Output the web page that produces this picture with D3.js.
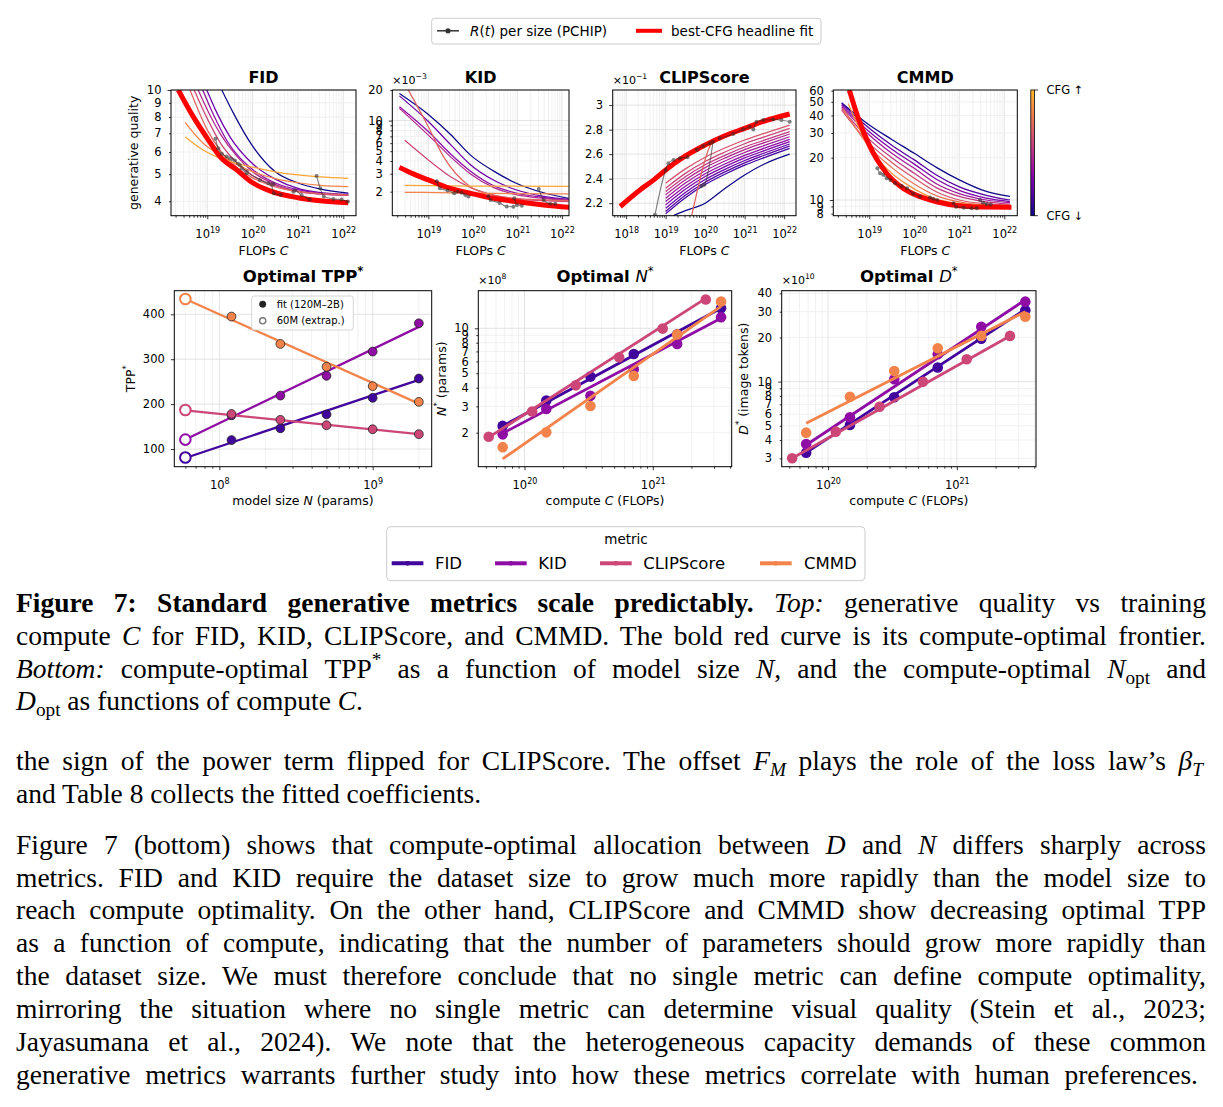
<!DOCTYPE html>
<html><head><meta charset="utf-8">
<script src="https://cdn.jsdelivr.net/npm/d3@7/dist/d3.min.js"></script>
<style>html,body{margin:0;padding:0;background:#fff;} svg{display:block;}</style>
</head><body>
<svg id="fig" width="1223" height="1107" xmlns="http://www.w3.org/2000/svg"></svg>
<script>
// ======================= DATA =======================
// Top row: fitted curves per CFG level. cfg = position on the colour map (low CFG -> high CFG).
// Points are [log10 C (FLOPs), metric value].
const FID_CURVES = [
  {cfg:0.00, pts:[[19.32,10],[19.57,8.3],[20.0,6.3],[20.5,5.1],[21.0,4.65],[21.5,4.42],[22.11,4.28]]},
  {cfg:0.20, pts:[[18.99,10],[19.21,8.3],[19.5,6.8],[20.0,5.45],[20.5,4.8],[21.0,4.45],[21.5,4.3],[22.11,4.24]]},
  {cfg:0.30, pts:[[18.9,10],[19.13,8.2],[19.43,6.6],[20.0,5.2],[20.5,4.65],[21.0,4.4],[21.5,4.27],[22.11,4.22]]},
  {cfg:0.40, pts:[[18.8,10],[19.0,8.5],[19.28,7.0],[19.65,5.8],[20.0,5.1],[20.5,4.6],[21.0,4.35],[21.5,4.25],[22.11,4.2]]},
  {cfg:0.50, pts:[[18.71,10],[19.0,7.9],[19.28,6.5],[19.65,5.5],[20.0,4.95],[20.5,4.55],[21.0,4.33],[21.5,4.24],[22.11,4.2]]},
  {cfg:0.60, pts:[[18.62,10],[19.0,7.2],[19.28,6.1],[19.65,5.3],[20.0,4.85],[20.5,4.5],[21.0,4.33],[21.5,4.26],[22.11,4.22]]},
  {cfg:0.70, pts:[[18.51,7.66],[18.91,6.45],[19.28,5.86],[20.0,5.11],[20.5,4.82],[21.0,4.66],[21.5,4.56],[22.11,4.51]]},
  {cfg:0.80, pts:[[18.51,6.81],[18.91,6.1],[19.28,5.7],[20.0,5.3],[20.5,5.1],[21.0,4.97],[21.5,4.89],[22.11,4.83]]}
];
const FID_BEST = [[18.36,10],[18.69,8.03],[19.0,6.72],[19.28,5.78],[19.65,5.18],[20.0,4.66],[20.38,4.36],[21.0,4.12],[21.49,4.02],[22.11,3.95]];
const FID_RT = [
  [[19.18,6.70],[19.24,6.19],[19.32,5.91],[19.43,5.78],[19.54,5.67]],
  [[19.5,5.70],[19.61,5.60],[19.68,5.45],[19.76,5.25],[19.87,5.04]],
  [[19.72,5.39],[19.87,5.11],[20.16,4.77],[20.35,4.64],[20.46,4.61]],
  [[20.42,4.58],[20.47,4.27],[20.62,4.22]],
  [[20.9,4.33],[20.93,4.37],[21.08,4.21],[21.26,4.06]],
  [[21.41,4.93],[21.49,4.45],[21.57,4.16],[21.78,4.08],[21.96,4.06],[22.1,3.99]]
];

// KID values in units of 1e-3
const KID_CURVES = [
  {cfg:0.00, pts:[[18.35,18.5],[19.0,11.5],[19.5,7.3],[19.94,4.6],[20.46,3.2],[20.95,2.45],[21.59,1.95],[22.15,1.72]]},
  {cfg:0.20, pts:[[18.35,17.5],[19.0,9.8],[19.5,5.8],[19.94,3.7],[20.46,2.6],[20.95,2.1],[21.59,1.8],[22.15,1.68]]},
  {cfg:0.30, pts:[[18.35,13.7],[19.0,7.8],[19.5,4.7],[19.94,3.2],[20.46,2.3],[20.95,1.95],[21.59,1.75],[22.15,1.66]]},
  {cfg:0.40, pts:[[18.35,13.2],[19.0,7.2],[19.5,4.4],[19.94,3.0],[20.46,2.2],[20.95,1.88],[21.59,1.72],[22.15,1.65]]},
  {cfg:0.50, pts:[[18.47,6.4],[19.0,4.1],[19.5,2.8],[19.94,2.2],[20.46,1.85],[20.95,1.7],[21.59,1.63],[22.15,1.6]]},
  {cfg:0.60, pts:[[18.55,20],[19.0,8.7],[19.34,4.42],[19.94,2.24],[20.46,1.85],[20.95,1.72],[21.59,1.66],[22.15,1.63]]},
  {cfg:0.70, pts:[[18.47,1.97],[19.5,1.95],[20.5,1.92],[22.15,1.90]]},
  {cfg:0.80, pts:[[18.47,2.30],[20.0,2.27],[22.15,2.25]]}
];
const KID_BEST = [[18.35,3.47],[18.66,2.99],[19.0,2.61],[19.41,2.21],[19.94,1.93],[20.46,1.72],[20.95,1.60],[21.59,1.48],[22.19,1.40]];
const KID_RT = [
  [[19.19,2.53],[19.26,2.16],[19.43,2.05],[19.58,1.93]],
  [[19.65,2.0],[19.75,1.95],[19.83,1.85],[19.9,1.79]],
  [[20.35,1.80],[20.4,1.66],[20.6,1.55],[20.76,1.43],[20.91,1.42]],
  [[20.93,1.72],[20.99,1.48],[21.1,1.45]],
  [[21.48,2.12],[21.59,1.66],[21.74,1.52],[21.85,1.52]]
];

// CLIPScore values in units of 1e-1
const CLIP_CURVES = [
  {cfg:0.00, pts:[[19.2,2.10],[19.5,2.14],[20.0,2.2],[20.5,2.32],[21.0,2.43],[21.5,2.52],[22.14,2.60]]},
  {cfg:0.10, pts:[[19.0,2.113],[19.5,2.245],[20.0,2.352],[20.5,2.436],[21.0,2.510],[21.5,2.572],[22.14,2.647]]},
  {cfg:0.15, pts:[[19.0,2.132],[19.5,2.264],[20.0,2.371],[20.5,2.455],[21.0,2.529],[21.5,2.591],[22.14,2.666]]},
  {cfg:0.20, pts:[[19.0,2.159],[19.5,2.288],[20.0,2.393],[20.5,2.476],[21.0,2.548],[21.5,2.609],[22.14,2.683]]},
  {cfg:0.25, pts:[[19.0,2.186],[19.5,2.313],[20.0,2.417],[20.5,2.498],[21.0,2.569],[21.5,2.629],[22.14,2.702]]},
  {cfg:0.30, pts:[[19.0,2.213],[19.5,2.338],[20.0,2.440],[20.5,2.520],[21.0,2.590],[21.5,2.649],[22.14,2.721]]},
  {cfg:0.35, pts:[[19.0,2.241],[19.5,2.365],[20.0,2.465],[20.5,2.544],[21.0,2.613],[21.5,2.671],[22.14,2.742]]},
  {cfg:0.40, pts:[[19.0,2.268],[19.5,2.391],[20.0,2.490],[20.5,2.568],[21.0,2.637],[21.5,2.694],[22.14,2.764]]},
  {cfg:0.45, pts:[[19.0,2.295],[19.5,2.416],[20.0,2.513],[20.5,2.590],[21.0,2.658],[21.5,2.714],[22.14,2.783]]},
  {cfg:0.50, pts:[[19.0,2.322],[19.5,2.443],[20.0,2.540],[20.5,2.617],[21.0,2.685],[21.5,2.741],[22.14,2.810]]},
  {cfg:0.55, pts:[[19.0,2.363],[19.5,2.480],[20.0,2.575],[20.5,2.650],[21.0,2.715],[21.5,2.770],[22.14,2.837]]},
  {cfg:0.60, pts:[[19.66,2.10],[19.8,2.30],[19.95,2.50],[20.16,2.688],[20.5,2.76],[21.0,2.80],[21.5,2.86],[22.14,2.91]]}
];
const CLIP_BEST = [[17.85,2.173],[18.35,2.308],[18.7,2.39],[19.0,2.471],[19.5,2.585],[20.0,2.675],[20.5,2.75],[21.0,2.81],[21.5,2.87],[22.14,2.927]];
const CLIP_RT = [
  [[18.73,2.105],[19.0,2.471],[19.07,2.525],[19.2,2.553],[19.36,2.566],[19.55,2.574]],
  [[19.79,2.634],[19.95,2.666],[20.12,2.688]],
  [[19.91,2.34],[19.98,2.35],[20.2,2.70]],
  [[20.37,2.729],[20.71,2.764],[20.96,2.802],[21.13,2.824]],
  [[21.22,2.80],[21.3,2.864],[21.47,2.878],[21.72,2.883],[21.93,2.878],[22.14,2.864]]
];

const CMMD_CURVES = [
  {cfg:0.00, pts:[[18.385,49.3],[19.0,34.2],[19.5,27],[20.0,21.5],[20.5,17],[21.0,13.9],[21.6,11.5],[22.126,10.6]]},
  {cfg:0.15, pts:[[18.385,48.7],[19.0,32.4],[19.5,24.5],[20.0,19.3],[20.5,15.0],[21.0,12.4],[21.6,10.8],[22.126,10.0]]},
  {cfg:0.25, pts:[[18.385,47.4],[19.0,30.6],[19.5,23.0],[20.0,18.0],[20.5,14.0],[21.0,11.7],[21.6,10.3],[22.126,9.73]]},
  {cfg:0.35, pts:[[18.385,46.2],[19.0,29.0],[19.5,21.5],[20.0,16.8],[20.5,13.0],[21.0,11.1],[21.6,10.0],[22.126,9.57]]},
  {cfg:0.45, pts:[[18.385,44.9],[19.0,27.0],[19.5,20.0],[20.0,15.5],[20.5,12.2],[21.0,10.6],[21.6,9.7],[22.126,9.36]]},
  {cfg:0.55, pts:[[18.385,43.7],[19.0,25.3],[19.5,18.5],[20.0,14.3],[20.5,11.4],[21.0,10.0],[21.6,9.4],[22.126,9.21]]},
  {cfg:0.65, pts:[[18.42,44.5],[19.0,24.0],[19.5,17.0],[20.0,13.0],[20.5,10.7],[21.0,9.7],[21.6,9.2],[22.126,9.06]]},
  {cfg:0.75, pts:[[18.53,48.7],[19.0,23.5],[19.5,15.5],[20.0,12.0],[20.5,10.1],[21.0,9.45],[21.6,9.1],[22.126,8.96]]},
  {cfg:0.85, pts:[[18.54,62],[18.756,40],[19.0,25.5],[19.385,16.0],[20.0,11.1],[20.5,9.8],[21.0,9.2],[22.126,8.9]]}
];
const CMMD_BEST = [[18.556,60.7],[18.756,38.1],[19.0,24.6],[19.385,15.5],[19.756,12.1],[20.0,10.97],[20.496,9.72],[21.0,9.1],[21.6,8.9],[22.16,8.87]];
const CMMD_RT = [
  [[19.18,16.8],[19.24,15.5],[19.31,15.1],[19.385,14.3],[19.47,13.9]],
  [[19.57,13.2],[19.72,12.6],[19.84,12.1],[19.98,11.1],[20.13,10.6]],
  [[20.35,10.4],[20.42,10.2],[20.51,10.0]],
  [[20.87,9.47],[20.93,8.96],[21.1,8.8],[21.27,8.72],[21.39,8.72]],
  [[21.46,10.0],[21.53,9.57],[21.61,9.36],[21.7,9.3]]
];

// Tick labels
const FID_YTICKS = [4,5,6,7,8,9,10];
const KID_YTICKS = [2,3,4,5,6,7,8,9,10,20];
const CLIP_YTICKS = [2.2,2.4,2.6,2.8,3.0];
const CMMD_YTICKS = [8,9,10,20,30,40,50,60];
const TPP_YTICKS = [100,200,300,400];
const NOPT_YTICKS = [2,3,4,5,6,7,8,9,10];
const DOPT_YTICKS = [3,4,5,6,7,8,9,10,20,30,40];

// Bottom row
const METRICS = ['FID','KID','CLIPScore','CMMD'];
const TPP_N = [6e7, 1.2e8, 2.5e8, 5e8, 1e9, 2e9];           // first size = 60M (extrapolated)
const TPP_FID  = [81, 120, 146, 177, 214, 257];
const TPP_KID  = [121, 175, 219, 263, 317, 380];
const TPP_CLIP = [187, 178, 165, 153, 144, 133];
const TPP_CMMD = [434, 395, 334, 283, 240, 205];
const TPP_FIT = {FID:[80,254], KID:[121,372], CLIPScore:[186,133], CMMD:[434,201]}; // fit at 60M and 2B

const OPT_C      = [6.76e19, 1.479e20, 3.266e20, 7.11e20, 1.549e21, 3.404e21];
const OPT_C_CLIP = [5.26e19, 1.148e20, 2.512e20, 5.46e20, 1.194e21, 2.588e21];
// N* in units of 1e8 params
const NOPT_FID  = [2.22, 3.28, 4.75, 6.73, 9.12, 13.6];
const NOPT_KID  = [1.95, 2.88, 3.53, 5.32, 7.85, 11.85];
const NOPT_CLIP = [1.88, 2.77, 4.15, 6.40, 9.95, 15.6];
const NOPT_CMMD = [1.60, 2.01, 3.02, 4.80, 9.10, 15.1];
const NOPT_FIT = {FID:[2.22,13.6], KID:[1.98,11.67], CLIPScore:[1.86,15.86], CMMD:[1.335,14.0]};
// D* in units of 1e10 image tokens
const DOPT_FID  = [3.28, 5.06, 7.82, 12.5, 19.6, 30.7];
const DOPT_KID  = [3.76, 5.72, 10.4, 15.4, 23.7, 35.1];
const DOPT_CLIP = [3.0, 4.56, 6.74, 9.99, 14.2, 20.5];
const DOPT_CMMD = [4.49, 7.89, 11.8, 16.9, 20.5, 27.7];
const DOPT_FIT = {FID:[3.28,31.1], KID:[3.70,36.1], CLIPScore:[3.0,20.5], CMMD:[5.2,30.0]};

// ======================= DRAWING =======================
const svg = d3.select('#fig');
const SANS = "'DejaVu Sans', Verdana, sans-serif";
const SERIF = "'Liberation Serif', 'Times New Roman', serif";
const CMAP = t => d3.interpolatePlasma(t);
const MCOL = {FID:CMAP(0.1), KID:CMAP(0.3), CLIPScore:CMAP(0.5), CMMD:CMAP(0.7)};
const FS_TICK = 11.5, FS_LAB = 12.5, FS_TITLE = 16;
let clipN = 0;
const defs = svg.append('defs');

function logTicks(dom){
  const out=[]; const lo=dom[0], hi=dom[1];
  for(let e=Math.floor(Math.log10(lo)); e<=Math.ceil(Math.log10(hi)); e++){
    for(let m=1;m<=9;m++){ const v=m*Math.pow(10,e); if(v>=lo*(1-1e-9) && v<=hi*(1+1e-9)) out.push({v, major:m===1}); }
  }
  return out;
}

function rich(sel, parts, fs){
  let shift=0;
  parts.forEach(p=>{
    const s=p[0], f=p[1]||'';
    const ts=sel.append('tspan').text(s);
    if(f.includes('i')) ts.attr('font-style','italic');
    if(f.includes('b')) ts.attr('font-weight','bold');
    if(f.includes('n')) ts.attr('font-weight','normal');
    let target=0;
    if(f.includes('^')){ target=-0.42*fs; ts.attr('font-size',0.7*fs); }
    if(f.includes('_')){ target=0.22*fs; ts.attr('font-size',0.7*fs); }
    if(target!==shift){ ts.attr('dy', target-shift); shift=target; }
  });
}

function panel(o){
  const x=d3.scaleLog().domain(o.xDom).range([o.x0,o.x1]);
  const y=(o.yLog?d3.scaleLog():d3.scaleLinear()).domain(o.yDom).range([o.y1,o.y0]);
  const g=svg.append('g').attr('font-family',SANS);
  const id='clip'+(clipN++);
  defs.append('clipPath').attr('id',id).append('rect')
    .attr('x',o.x0).attr('y',o.y0).attr('width',o.x1-o.x0).attr('height',o.y1-o.y0);
  const xt=logTicks(o.xDom);
  const yt=o.yLog?logTicks(o.yDom):o.yTicks.map(v=>({v,major:true}));
  // grid
  const grid=g.append('g');
  grid.selectAll('line.gx').data(xt).join('line').attr('class','gx')
    .attr('x1',d=>x(d.v)).attr('x2',d=>x(d.v)).attr('y1',o.y0).attr('y2',o.y1)
    .attr('stroke',d=>d.major?'#dcdcdc':'#eeeeee').attr('stroke-width',0.8);
  grid.selectAll('line.gy').data(yt).join('line').attr('class','gy')
    .attr('y1',d=>y(d.v)).attr('y2',d=>y(d.v)).attr('x1',o.x0).attr('x2',o.x1)
    .attr('stroke',d=>d.major?'#dcdcdc':'#eeeeee').attr('stroke-width',0.8);
  // x axis
  const xMin=xt.filter(d=>!d.major).map(d=>d.v), xMaj=xt.filter(d=>d.major).map(d=>d.v);
  const axm=g.append('g').attr('transform',`translate(0,${o.y1})`)
    .call(d3.axisBottom(x).tickValues(xMin).tickSize(2).tickSizeOuter(0).tickFormat(()=>''));
  const axM=g.append('g').attr('transform',`translate(0,${o.y1})`)
    .call(d3.axisBottom(x).tickValues(xMaj).tickSize(3.5).tickSizeOuter(0).tickFormat(()=>''));
  axM.selectAll('.tick text').attr('y',22.5).attr('dy',null).attr('font-size',FS_TICK)
    .attr('font-family',SANS).attr('fill','#000')
    .each(function(d){ rich(d3.select(this),[['10'],[String(Math.round(Math.log10(d))),'^']],FS_TICK); });
  // y axis
  let yMin, yMaj;
  if(o.yLog){ yMin=yt.filter(d=>!d.major).map(d=>d.v); yMaj=yt.filter(d=>d.major).map(d=>d.v); }
  else { yMin=[]; yMaj=o.yTicks; }
  const aym=g.append('g').attr('transform',`translate(${o.x0},0)`)
    .call(d3.axisLeft(y).tickValues(yMin).tickSize(2).tickSizeOuter(0).tickFormat(()=>''));
  const ayM=g.append('g').attr('transform',`translate(${o.x0},0)`)
    .call(d3.axisLeft(y).tickValues(yMaj).tickSize(3.5).tickSizeOuter(0).tickFormat(()=>''));
  [axm,axM,aym,ayM].forEach(a=>{ a.select('.domain').remove(); a.selectAll('line').attr('stroke','#000').attr('stroke-width',0.8); });
  g.append('g').selectAll('text').data(o.yLabels).join('text')
    .attr('x',o.x0-9.5).attr('y',d=>y(d)).attr('dy','0.36em').attr('text-anchor','end')
    .attr('font-size',FS_TICK).attr('fill','#000').text(o.yFmt||(d=>String(d)));
  const plot=g.append('g').attr('clip-path',`url(#${id})`);
  const over=g.append('g');
  g.append('rect').attr('x',o.x0).attr('y',o.y0).attr('width',o.x1-o.x0).attr('height',o.y1-o.y0)
    .attr('fill','none').attr('stroke','#000').attr('stroke-width',1);
  return {x,y,g,plot,over,o};
}

function title(cx, yb, parts, fs){
  const t=svg.append('text').attr('x',cx).attr('y',yb).attr('text-anchor','middle')
    .attr('font-family',SANS).attr('font-weight','bold').attr('font-size',fs).attr('fill','#000');
  rich(t,parts,fs);
}
function label(cx, yb, parts, fs, rot){
  const t=svg.append('text').attr('text-anchor','middle').attr('font-family',SANS)
    .attr('font-size',fs).attr('fill','#000');
  if(rot){ t.attr('transform',`translate(${cx},${yb}) rotate(-90)`).attr('dy','0.36em'); }
  else t.attr('x',cx).attr('y',yb);
  rich(t,parts,fs);
  return t;
}
function offsetText(x0, yb, exp){
  const t=svg.append('text').attr('x',x0).attr('y',yb).attr('font-family',SANS).attr('font-size',11).attr('fill','#000');
  rich(t,[['×10'],[exp,'^']],11);
}

// ---------- TOP ROW ----------
const TY0=90, TY1=215.7;
const TOP = [
  {name:'FID', curves:FID_CURVES, best:FID_BEST, rt:FID_RT, x0:171, x1:356, xl:[18.2,22.28], yLog:true, yDom:[3.553,10], yLabels:FID_YTICKS},
  {name:'KID', curves:KID_CURVES, best:KID_BEST, rt:KID_RT, x0:392.3, x1:569, xl:[18.19,22.16], yLog:true, yDom:[1.16,20], yLabels:KID_YTICKS, off:'−3'},
  {name:'CLIPScore', curves:CLIP_CURVES, best:CLIP_BEST, rt:CLIP_RT, x0:612.7, x1:796, xl:[17.66,22.3], yLog:false, yDom:[2.098,3.123], yTicks:CLIP_YTICKS, yLabels:CLIP_YTICKS, yFmt:d=>(Math.abs(d-3)<1e-9?'3':d.toFixed(1)), off:'−1'},
  {name:'CMMD', curves:CMMD_CURVES, best:CMMD_BEST, rt:CMMD_RT, x0:833.3, x1:1017.3, xl:[18.2,22.29], yLog:true, yDom:[7.73,60.7], yLabels:CMMD_YTICKS}
];
TOP.forEach(p=>{
  const P=panel({x0:p.x0,x1:p.x1,y0:TY0,y1:TY1,xDom:[Math.pow(10,p.xl[0]),Math.pow(10,p.xl[1])],
    yLog:p.yLog,yDom:p.yDom,yTicks:p.yTicks,yLabels:p.yLabels,yFmt:p.yFmt});
  const line=d3.line().x(d=>P.x(Math.pow(10,d[0]))).y(d=>P.y(d[1])).curve(d3.curveMonotoneX);
  P.plot.selectAll('path.cfg').data(p.curves).join('path').attr('class','cfg')
    .attr('d',d=>line(d.pts)).attr('fill','none').attr('stroke',d=>CMAP(d.cfg)).attr('stroke-width',1.25);
  P.plot.append('path').attr('d',line(p.best)).attr('fill','none').attr('stroke','#ff0000').attr('stroke-width',5);
  const rg=P.plot.append('g').attr('opacity',0.6);
  p.rt.forEach(s=>{
    rg.append('path').attr('d',line(s)).attr('fill','none').attr('stroke','#2a2a2a').attr('stroke-width',1.1);
    rg.selectAll(null).data(s).join('circle').attr('cx',d=>P.x(Math.pow(10,d[0]))).attr('cy',d=>P.y(d[1])).attr('r',2).attr('fill','#2a2a2a');
  });
  title((p.x0+p.x1)/2, 83, [[p.name]], FS_TITLE);
  label((p.x0+p.x1)/2, 255, [['FLOPs '],['C','i']], FS_LAB);
  if(p.off) offsetText(p.x0, 84, p.off);
});
label(133.3, (TY0+TY1)/2, [['generative quality']], FS_LAB, true);

// colour bar
const grad=defs.append('linearGradient').attr('id','cbar').attr('x1',0).attr('y1',1).attr('x2',0).attr('y2',0);
d3.range(0,1.0001,0.05).forEach(s=>grad.append('stop').attr('offset',s).attr('stop-color',CMAP(0.85*s)));
svg.append('rect').attr('x',1030.8).attr('y',TY0).attr('width',3.6).attr('height',TY1-TY0).attr('fill','url(#cbar)');
svg.append('rect').attr('x',1030.8).attr('y',TY0).attr('width',3.6).attr('height',TY1-TY0).attr('fill','none').attr('stroke','#000').attr('stroke-width',0.8);
[[TY0,'CFG ↑'],[TY1,'CFG ↓']].forEach(([yy,txt])=>{
  svg.append('line').attr('x1',1034.4).attr('x2',1038).attr('y1',yy).attr('y2',yy).attr('stroke','#000').attr('stroke-width',0.8);
  svg.append('text').attr('x',1046.5).attr('y',yy).attr('dy','0.36em').attr('font-family',SANS).attr('font-size',FS_TICK).text(txt);
});

// top legend
const lg=svg.append('g').attr('font-family',SANS);
lg.append('rect').attr('x',431.7).attr('y',18.3).attr('width',389.3).attr('height',25.7).attr('rx',3)
  .attr('fill','#fff').attr('stroke','#cccccc').attr('stroke-width',1);
lg.append('line').attr('x1',437).attr('x2',459).attr('y1',30.8).attr('y2',30.8).attr('stroke','#333').attr('stroke-width',1.5);
lg.append('circle').attr('cx',448).attr('cy',30.8).attr('r',2.6).attr('fill','#333');
const lt1=lg.append('text').attr('x',470).attr('y',35.5).attr('font-size',13.5);
rich(lt1,[['R','i'],['('],['t','i'],[') per size (PCHIP)']],13.5);
lg.append('line').attr('x1',636).attr('x2',662).attr('y1',30.8).attr('y2',30.8).attr('stroke','#ff0000').attr('stroke-width',4);
lg.append('text').attr('x',671).attr('y',35.5).attr('font-size',13.5).text('best-CFG headline fit');

// ---------- BOTTOM ROW ----------
const BY0=290.7, BY1=466.7;
// TPP*
{
  const P=panel({x0:174.3,x1:431.7,y0:BY0,y1:BY1,xDom:[Math.pow(10,7.706),Math.pow(10,9.385)],
    yLog:false,yDom:[60.6,452.6],yTicks:TPP_YTICKS,yLabels:TPP_YTICKS});
  const series={FID:TPP_FID,KID:TPP_KID,CLIPScore:TPP_CLIP,CMMD:TPP_CMMD};
  METRICS.forEach(m=>{
    const col=MCOL[m], f=TPP_FIT[m];
    P.plot.append('line').attr('x1',P.x(TPP_N[0])).attr('x2',P.x(TPP_N[TPP_N.length-1]))
      .attr('y1',P.y(f[0])).attr('y2',P.y(f[1])).attr('stroke',col).attr('stroke-width',2.3);
    const vals=series[m];
    P.plot.append('circle').attr('cx',P.x(TPP_N[0])).attr('cy',P.y(vals[0])).attr('r',5.3)
      .attr('fill','#fff').attr('stroke',col).attr('stroke-width',2);
    P.plot.selectAll(null).data(vals.slice(1).map((v,i)=>[TPP_N[i+1],v])).join('circle')
      .attr('cx',d=>P.x(d[0])).attr('cy',d=>P.y(d[1])).attr('r',4.4)
      .attr('fill',col).attr('stroke','#222').attr('stroke-width',0.8);
  });
  // inner legend
  const il=svg.append('g').attr('font-family',SANS);
  il.append('rect').attr('x',251.7).attr('y',296).attr('width',101.6).attr('height',34).attr('rx',2.5)
    .attr('fill','#fff').attr('fill-opacity',0.85).attr('stroke','#cccccc').attr('stroke-width',0.8);
  il.append('circle').attr('cx',262.7).attr('cy',304.2).attr('r',3.2).attr('fill','#222').attr('stroke','#222').attr('stroke-width',0.6);
  il.append('circle').attr('cx',262.7).attr('cy',320.8).attr('r',3.1).attr('fill','#fff').attr('stroke','#777').attr('stroke-width',1.4);
  il.append('text').attr('x',276.7).attr('y',304.2).attr('dy','0.36em').attr('font-size',10).text('fit (120M–2B)');
  il.append('text').attr('x',276.7).attr('y',320.8).attr('dy','0.36em').attr('font-size',10).text('60M (extrap.)');
  title(303, 282, [['Optimal TPP'],['*','^']], 16.5);
  label(303, 505, [['model size '],['N','i'],[' (params)']], FS_LAB);
  label(130, (BY0+BY1)/2, [['TPP'],['*','^']], FS_LAB, true);
}
// N* and D*
function optPanel(x0,x1,yDom,yLabels,data,fit,ttl,ylab,ylx,expo){
  const P=panel({x0:x0,x1:x1,y0:BY0,y1:BY1,xDom:[Math.pow(10,19.64),Math.pow(10,21.615)],
    yLog:true,yDom:yDom,yLabels:yLabels});
  METRICS.forEach(m=>{
    const col=MCOL[m], cs=(m==='CLIPScore')?OPT_C_CLIP:OPT_C, f=fit[m];
    P.plot.append('line').attr('x1',P.x(cs[0])).attr('x2',P.x(cs[cs.length-1]))
      .attr('y1',P.y(f[0])).attr('y2',P.y(f[1])).attr('stroke',col).attr('stroke-width',2.8);
    P.plot.selectAll(null).data(data[m].map((v,i)=>[cs[i],v])).join('circle')
      .attr('cx',d=>P.x(d[0])).attr('cy',d=>P.y(d[1])).attr('r',5.3).attr('fill',col);
  });
  title((x0+x1)/2, 282, ttl, 16.5);
  label((x0+x1)/2, 505, [['compute '],['C','i'],[' (FLOPs)']], FS_LAB);
  label(ylx, (BY0+BY1)/2, ylab, FS_LAB, true);
  offsetText(x0, 284, expo);
}
optPanel(478.3,731.7,[1.184,17.85],NOPT_YTICKS,
  {FID:NOPT_FID,KID:NOPT_KID,CLIPScore:NOPT_CLIP,CMMD:NOPT_CMMD},NOPT_FIT,
  [['Optimal '],['N','in'],['*','^n']],[['N','i'],['*','^'],[' (params)']],441,'8');
optPanel(781.7,1036,[2.63,41.7],DOPT_YTICKS,
  {FID:DOPT_FID,KID:DOPT_KID,CLIPScore:DOPT_CLIP,CMMD:DOPT_CMMD},DOPT_FIT,
  [['Optimal '],['D','in'],['*','^n']],[['D','i'],['*','^'],[' (image tokens)']],743,'10');

// bottom legend
const bl=svg.append('g').attr('font-family',SANS);
bl.append('rect').attr('x',386.7).attr('y',526.7).attr('width',478.3).attr('height',54).attr('rx',4)
  .attr('fill','#fff').attr('stroke','#cccccc').attr('stroke-width',1);
bl.append('text').attr('x',626).attr('y',544).attr('text-anchor','middle').attr('font-size',13.5).text('metric');
const LEG_X = {FID:[391.7,435], KID:[495,538.3], CLIPScore:[600,643.3], CMMD:[760,804]};
METRICS.forEach(m=>{
  const [lx,tx]=LEG_X[m];
  bl.append('line').attr('x1',lx).attr('x2',lx+31.7).attr('y1',563.3).attr('y2',563.3).attr('stroke',MCOL[m]).attr('stroke-width',4);
  bl.append('circle').attr('cx',lx+15.8).attr('cy',563.3).attr('r',2.4).attr('fill',MCOL[m]);
  bl.append('text').attr('x',tx).attr('y',563.3).attr('dy','0.36em').attr('font-size',16.5).text(m);
});

// ---------- CAPTION & BODY TEXT ----------
const TEXT_LINES = [
  {y:612, r:1206, parts:[['Figure 7: Standard generative metrics scale predictably.','b'],[' '],['Top:','i'],[' generative quality vs training']]},
  {y:645, r:1206, parts:[['compute '],['C','i'],[' for FID, KID, CLIPScore, and CMMD. The bold red curve is its compute-optimal frontier.']]},
  {y:678, r:1206, parts:[['Bottom:','i'],[' compute-optimal TPP'],['*','^'],[' as a function of model size '],['N','i'],[', and the compute-optimal '],['N','i'],['opt','_'],[' and']]},
  {y:710, r:null, parts:[['D','i'],['opt','_'],[' as functions of compute '],['C','i'],['.']]},
  {y:770, r:1203, parts:[['the sign of the power term flipped for CLIPScore. The offset '],['F','i'],['M','i_'],[' plays the role of the loss law’s '],['β','i'],['T','i_']]},
  {y:803, r:null, parts:[['and Table 8 collects the fitted coefficients.']]},
  {y:854, r:1206, parts:[['Figure 7 (bottom) shows that compute-optimal allocation between '],['D','i'],[' and '],['N','i'],[' differs sharply across']]},
  {y:887, r:1206, parts:[['metrics. FID and KID require the dataset size to grow much more rapidly than the model size to']]},
  {y:919, r:1206, parts:[['reach compute optimality. On the other hand, CLIPScore and CMMD show decreasing optimal TPP']]},
  {y:952, r:1206, parts:[['as a function of compute, indicating that the number of parameters should grow more rapidly than']]},
  {y:985, r:1206, parts:[['the dataset size. We must therefore conclude that no single metric can define compute optimality,']]},
  {y:1018, r:1206, parts:[['mirroring the situation where no single metric can determine visual quality (Stein et al., 2023;']]},
  {y:1051, r:1206, parts:[['Jayasumana et al., 2024). We note that the heterogeneous capacity demands of these common']]},
  {y:1084, r:1198, parts:[['generative metrics warrants further study into how these metrics correlate with human preferences.']]}
];
const FS_BODY = 27.5;
TEXT_LINES.forEach(L=>{
  const t=svg.append('text').attr('x',16).attr('y',L.y).attr('font-family',SERIF).attr('font-size',FS_BODY).attr('fill','#000');
  rich(t,L.parts,FS_BODY);
  if(L.r){
    const len=t.node().getComputedTextLength();
    const n=(t.text().match(/ /g)||[]).length;
    if(n>0) t.attr('word-spacing',((L.r-16)-len)/n);
  }
});
</script>
</body></html>
